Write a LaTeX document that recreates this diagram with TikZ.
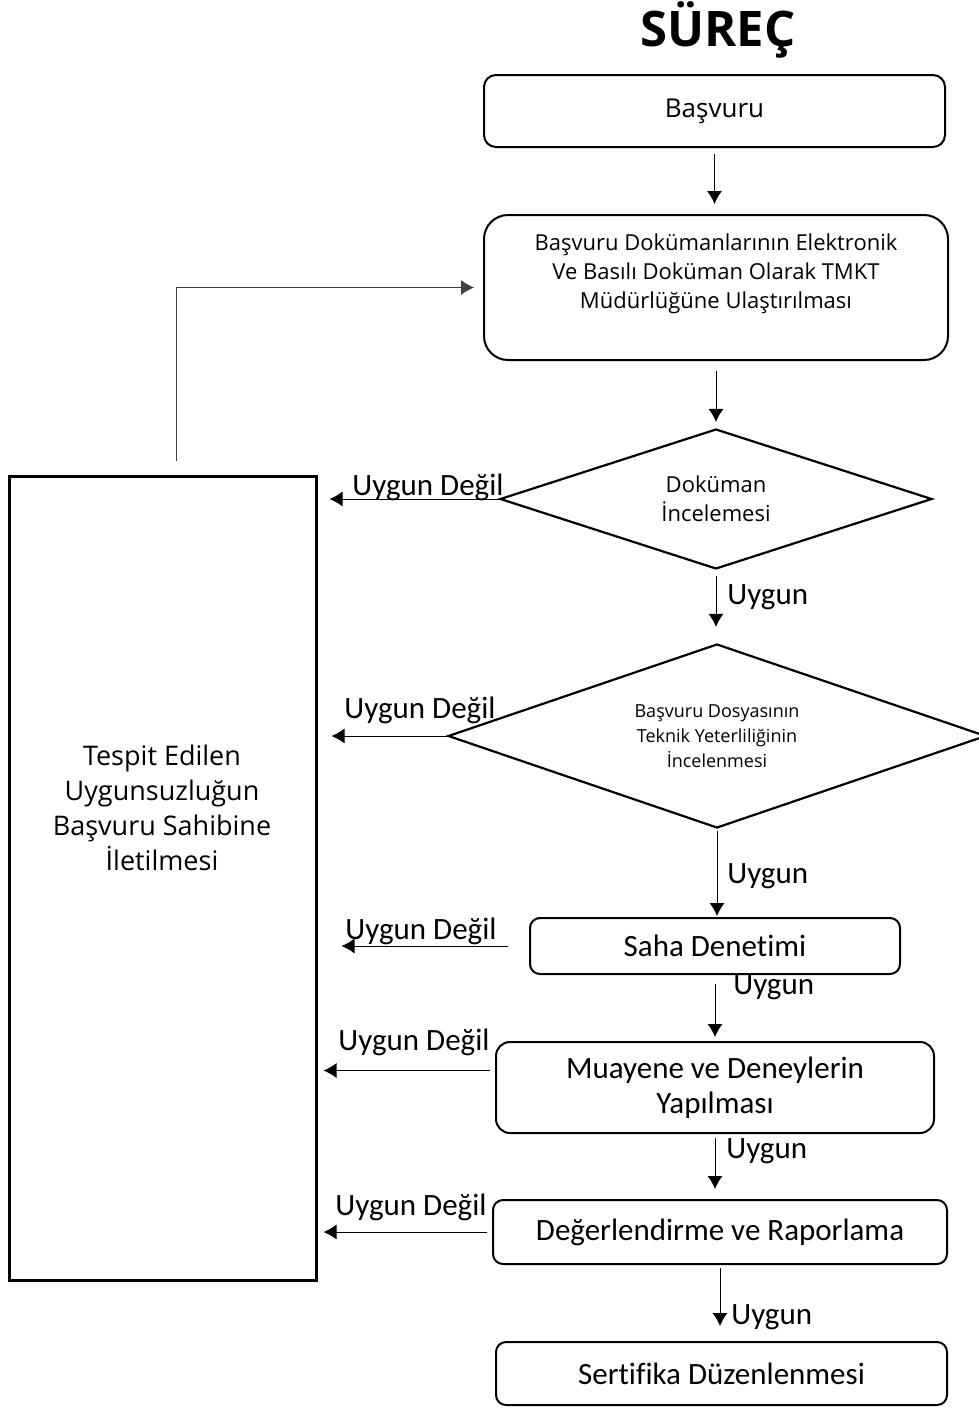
\documentclass[tikz,border=0pt]{standalone}
\usepackage{fontspec}
\setmainfont{Open Sans}
\newfontfamily\calibri[Ligatures=NoCommon]{Carlito}
\usepackage{tikz}
\usetikzlibrary{arrows.meta}
\usetikzlibrary{shapes.geometric}
\tikzset{>=latex}
\tikzstyle{kutu} = [draw, line width=1pt, rounded corners=5pt, inner sep=0, align=center]
\tikzstyle{karar} = [draw, diamond, aspect=3, line width=1.1pt, inner sep=0, align=center]
\tikzstyle{ok} = [-{Latex[length=6.5pt,width=7.5pt]}, line width=0.5pt]
\tikzstyle{etiket} = [draw=none, inner sep=0, font=\calibri\fontsize{15.5}{18}\selectfont]
\tikzstyle{altkutu} = [kutu, font=\calibri\fontsize{15.5}{17.5}\selectfont]

\begin{document}
\begin{tikzpicture}[x=0.5pt, y=-0.5pt]
\useasboundingbox (0,0) rectangle (979,1408);
%\node [draw=none] at (0,0) {};
\node [draw=none, inner sep = 0, font=\fontsize{24.5}{28}\selectfont\bfseries] (baslik) at (718, 30) {SÜREÇ};
\node [kutu, rounded corners=6pt, minimum width=230.5pt, minimum height=36pt, font=\fontsize{13}{16}\selectfont] (basvuru) at (714.5, 111) {Başvuru};
\node [kutu, rounded corners=12pt, minimum width=232pt, minimum height=72.5pt] (dok) at (716, 287.5) {};
\node [draw=none, inner sep = 0, align=center, font=\fontsize{11}{14.5}\selectfont] (dok-yazi) at (716, 274) {Başvuru Dokümanlarının Elektronik\\Ve Basılı Doküman Olarak TMKT\\Müdürlüğüne Ulaştırılması};
\node [karar, minimum width=216pt, minimum height=70pt, font=\fontsize{11}{14.5}\selectfont] (inc) at (716, 499) {Doküman\\İncelemesi};
\node [karar, aspect=2.9, minimum width=269pt, minimum height=92pt, font=\fontsize{9}{12.5}\selectfont] (tek) at (717, 736) {Başvuru Dosyasının\\Teknik Yeterliliğinin\\İncelenmesi};
\node [altkutu, minimum width=185pt, minimum height=28pt] (saha) at (715, 946) {Saha Denetimi};
\node [altkutu, rounded corners=7pt, minimum width=219pt, minimum height=45.5pt] (muay) at (715, 1087.5) {Muayene ve Deneylerin\\Yapılması};
\node [altkutu, minimum width=227pt, minimum height=32pt] (deg) at (720, 1232) {Değerlendirme ve Raporlama};
\node [altkutu, minimum width=225.5pt, minimum height=31.5pt] (sert) at (721.5, 1373.5) {Sertifika Düzenlenmesi};
\node [draw, line width=1.5pt, inner sep = 0, minimum width=153.5pt, minimum height=402pt] (geri) at (162.5, 878) {};
\node [draw=none, inner sep = 0, align=center, font=\fontsize{13.5}{17.5}\selectfont] (geri-yazi) at (162, 808) {Tespit Edilen\\Uygunsuzluğun\\Başvuru Sahibine\\İletilmesi};

% ana akis
\draw [ok, shorten <=3pt, shorten >=5pt] (basvuru.south) -- (basvuru.south |- dok.north);
\draw [ok, shorten <=5pt, shorten >=3pt] (dok.south) -- (dok.south |- inc.north);
\draw [ok, shorten <=3pt, shorten >=8pt] (inc.south) -- (inc.south |- tek.north);
\draw [ok, shorten <=1pt, shorten >=0.5pt] (tek.south) -- (tek.south |- saha.north);
\draw [ok, shorten <=4.5pt, shorten >=2pt] (saha.south) -- (saha.south |- muay.north);
\draw [ok, shorten <=2pt, shorten >=5pt] (muay.south) -- (muay.south |- deg.north);
\draw [ok, shorten <=1.5pt, shorten >=7.5pt] (deg.south) -- (deg.south |- sert.north);
\node [etiket, anchor=west] (u1) at (727, 597) {Uygun};
\node [etiket, anchor=west] (u2) at (727, 876) {Uygun};
\node [etiket, anchor=west] (u3) at (733, 987) {Uygun};
\node [etiket, anchor=west] (u4) at (726, 1151) {Uygun};
\node [etiket, anchor=west] (u5) at (731, 1317) {Uygun};

% uygun degil
\draw [ok, shorten >=6pt] (inc.west) -- (inc.west -| geri.east);
\draw [ok, shorten >=7pt] (tek.west) -- (tek.west -| geri.east);
\draw [ok, shorten <=10.5pt, shorten >=12pt] (saha.west) -- (saha.west -| geri.east);
\draw [ok, shorten <=2.5pt, shorten >=3pt] ([yshift=8.5pt]muay.west) -- ([yshift=8.5pt]muay.west -| geri.east);
\draw [ok, shorten <=2.5pt, shorten >=3pt] (deg.west) -- (deg.west -| geri.east);
\node [etiket] (d1) at (428, 487) {Uygun Değil};
\node [etiket] (d2) at (420, 710) {Uygun Değil};
\node [etiket] (d3) at (421, 931) {Uygun Değil};
\node [etiket] (d4) at (414, 1042) {Uygun Değil};
\node [etiket] (d5) at (411, 1207) {Uygun Değil};

% geri donus
\draw [ok, draw=black!75, shorten >=4.5pt] ([xshift=6.75pt, yshift=7pt]geri.north) |- (dok.west);
\end{tikzpicture}
\end{document}
